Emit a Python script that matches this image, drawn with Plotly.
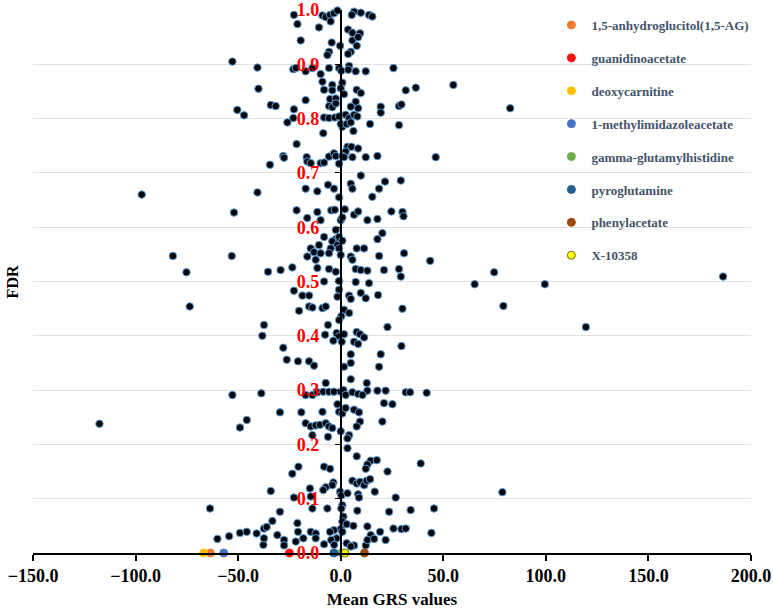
import plotly.graph_objects as go

# ---- background metabolites: Mean GRS value (x) and FDR (y) ----
grs_x = [
    -22.8, -8.9, -7.3, -5.2, -3.3, -1.6, 2.4, 4.9, 6.5, 5.4, 9.8, 13.8, 15.4,
    -4.9, -21.1, -10.6, 3.6, 5.7, 9.4, -19.5, -4.4, 5.7, 8.5, -0.3, 7.8, 4.9, -5.7, -6.5, 3.6,
    -23.1, -21.9, -17.1, -13.8, -9.8, -5.7, -0.8, 0.3, 4.1, 3.7, 7.3, 12.2, 25.7,
    -8.9, -8.1, -4.1, 0.8, 0.0, -4.1, 1.6, 7.8, 9.8, 31.7, -34.1, -31.7, -17.1, -5.2, -2.4, 7.3,
    -22.8, -5.7, -4.1, -2.4, 4.9, 8.5, 19.5, 19.5, 28.4, 29.6,
    -26.0, -23.1, -8.1, -5.7, -2.9, -0.8, 2.4, 4.1, 6.5, 8.1, 0.8, 0.0, 2.9, 4.9, 14.3, 28.4,
    -8.5, 6.2, -21.5, 3.3, 5.2, 8.5, 2.4, -28.0, -27.6, -16.6, -16.3, -14.6, -9.8, -8.1, -5.7,
    -3.3, -2.4, 0.8, 1.6, 5.7, 12.2, 17.9, -0.8, 9.8, 29.3, 21.6,
    -17.1, -11.4, -6.2, -3.3, 4.9, 5.7, 18.7, 15.4, -0.8,
    -21.5, -11.4, -4.6, -2.9, 2.0, 6.5, 8.5, 13.0, 17.9, 24.7, 30.1, 30.6, -9.8, 0.0, 0.8, -16.3,
    -2.4, -8.1, -2.4, -0.8, 0.8, -4.1, -1.6, -0.8, -4.9, -10.6, -14.6, -13.0, -16.3, -9.8, -5.7,
    0.0, 4.9, 7.8, 11.4, 5.7, 17.9, 20.3, 18.7, 30.9,
    -29.3, -23.6, -12.2, -11.4, -5.7, -2.4, 7.3, 9.8, 13.0, 21.1, 28.4,
    -8.1, -0.8, 7.3, 13.8, 29.3, -22.8, -18.7, -15.4, -0.8, -1.6, 4.1, 4.9, 9.8, 12.2, 18.2,
    -20.3, -15.4, -13.8, -8.9, -7.3, 1.6, 4.1, 30.1, 0.3, -0.8, -6.2, 22.8,
    -7.6, -2.0, -0.8, 1.6, -3.6, 0.5, 7.8, 9.4, 11.4, 6.5, 8.5, 29.6,
    -28.0, -26.3, -20.8, -15.4, -13.0, 4.9, 4.9, 1.6, 19.5, 18.7,
    4.9, -7.3, 12.7, 13.0, 17.9, 21.9, 31.7, 33.8, -17.1, -13.8, -11.4, -8.5, -5.7, -3.3, 0.0,
    1.3, 2.4, 5.7, 8.5, 10.6,
    -29.6, -19.2, -8.9, -1.6, -0.8, 0.8, 2.4, 6.5, 8.9, 21.1, 25.2, 9.4,
    -17.1, -14.6, -12.2, -10.1, -7.3, -5.7, -4.1, 0.0, 4.1, 3.3, -13.8, -6.2, 7.8, 20.3,
    3.3, 7.8, 14.6, 17.6, 13.0, 12.2, 22.8, -20.6, -23.6, -8.1, -5.2,
    5.7, 7.8, 9.4, 11.4, 12.7, 14.3, -3.6, -4.1, -7.3, -8.5, -15.0, -14.6, -22.8, -34.1,
    -0.3, 0.3, 3.3, 8.5, 8.9, 16.6, 26.8, 0.8, 0.3, -6.5, -13.8, -29.6, 8.1, 23.6, 34.1,
    -33.3, -21.1, 1.3, 0.8, 2.9, 0.0, 6.2, -3.3, -5.2, -14.6, -20.8, -12.2, -12.2, -2.0, 0.8,
    14.6, 13.0, 19.2, 21.9, 25.7, 29.6, 31.7, -30.9, -27.6, -21.9, -27.6, -18.2, -8.1, -4.6,
    6.5, 2.9, 4.9, 12.2, 13.0, 16.3, -3.2,
    -52.8, -40.6, -40.1, -50.4, -47.1, -34.5, 36.6, 54.9, 46.3, -40.6,
    -52.0, -53.1, -35.4, -37.4, -38.2, -52.8, -38.7, 43.6, 41.9,
    -45.8, -49.1, -63.7, -60.1, -54.4, -49.1, -45.8, -41.0, -37.4, -36.1, -37.7, -37.4,
    39.0, 45.5, 44.2,
    -97.0, -81.8, -75.2, -73.6, -117.6, 82.6, 74.8, 65.3, 99.5, 79.3, 119.5, 186.4, 78.8,
]
fdr_y = [
    0.991, 0.990, 0.987, 0.991, 0.994, 0.999, 1.003, 1.001, 0.997, 0.991, 0.995, 0.991, 0.988,
    0.979, 0.974, 0.968, 0.964, 0.958, 0.957, 0.944, 0.940, 0.944, 0.950, 0.934, 0.934, 0.923, 0.923, 0.917, 0.919,
    0.891, 0.893, 0.887, 0.893, 0.882, 0.893, 0.893, 0.888, 0.897, 0.890, 0.887, 0.887, 0.893,
    0.868, 0.853, 0.862, 0.866, 0.856, 0.852, 0.845, 0.853, 0.847, 0.852, 0.825, 0.823, 0.834, 0.836, 0.837, 0.831,
    0.817, 0.823, 0.821, 0.828, 0.822, 0.819, 0.822, 0.811, 0.823, 0.826,
    0.793, 0.801, 0.802, 0.801, 0.802, 0.804, 0.807, 0.801, 0.807, 0.804, 0.785, 0.790, 0.790, 0.793, 0.790, 0.788,
    0.773, 0.777, 0.753, 0.748, 0.748, 0.745, 0.739, 0.731, 0.728, 0.729, 0.721, 0.718, 0.718, 0.719, 0.730,
    0.736, 0.731, 0.731, 0.729, 0.729, 0.729, 0.731, 0.717, 0.695, 0.686, 0.684,
    0.671, 0.666, 0.678, 0.671, 0.680, 0.671, 0.671, 0.656, 0.655,
    0.631, 0.628, 0.631, 0.632, 0.633, 0.623, 0.629, 0.613, 0.615, 0.629, 0.628, 0.620, 0.613, 0.613, 0.618, 0.617,
    0.595, 0.582, 0.578, 0.582, 0.575, 0.574, 0.567, 0.561, 0.561, 0.567, 0.561, 0.554, 0.546, 0.552, 0.552,
    0.549, 0.546, 0.561, 0.561, 0.540, 0.578, 0.589, 0.547, 0.552,
    0.521, 0.526, 0.540, 0.525, 0.523, 0.518, 0.523, 0.521, 0.520, 0.521, 0.523,
    0.500, 0.501, 0.499, 0.497, 0.509, 0.483, 0.474, 0.474, 0.485, 0.472, 0.474, 0.468, 0.479, 0.469, 0.475,
    0.446, 0.454, 0.452, 0.451, 0.454, 0.448, 0.442, 0.450, 0.436, 0.429, 0.420, 0.416,
    0.402, 0.405, 0.399, 0.403, 0.391, 0.389, 0.407, 0.403, 0.397, 0.389, 0.385, 0.381,
    0.378, 0.356, 0.353, 0.353, 0.345, 0.366, 0.350, 0.343, 0.366, 0.343,
    0.320, 0.313, 0.313, 0.299, 0.299, 0.299, 0.296, 0.296, 0.291, 0.291, 0.296, 0.297, 0.297, 0.297, 0.297,
    0.300, 0.291, 0.296, 0.293, 0.291,
    0.259, 0.259, 0.260, 0.274, 0.260, 0.257, 0.267, 0.264, 0.259, 0.276, 0.274, 0.242,
    0.239, 0.233, 0.235, 0.236, 0.239, 0.233, 0.230, 0.224, 0.217, 0.211, 0.217, 0.214, 0.233, 0.242,
    0.193, 0.178, 0.170, 0.171, 0.163, 0.155, 0.150, 0.159, 0.146, 0.159, 0.155,
    0.133, 0.128, 0.131, 0.125, 0.133, 0.136, 0.130, 0.125, 0.121, 0.116, 0.119, 0.104, 0.102, 0.114,
    0.113, 0.106, 0.110, 0.108, 0.102, 0.113, 0.102, 0.088, 0.082, 0.082, 0.082, 0.076, 0.078, 0.076, 0.079,
    0.059, 0.055, 0.067, 0.058, 0.053, 0.044, 0.050, 0.042, 0.039, 0.039, 0.039, 0.036, 0.027, 0.027, 0.039,
    0.033, 0.049, 0.039, 0.024, 0.045, 0.044, 0.045, 0.033, 0.024, 0.021, 0.014, 0.027, 0.016, 0.024,
    0.014, 0.018, 0.012, 0.014, 0.024, 0.026, 0.015,
    0.905, 0.894, 0.855, 0.816, 0.806, 0.715, 0.857, 0.862, 0.729, 0.664,
    0.627, 0.547, 0.518, 0.420, 0.400, 0.291, 0.294, 0.538, 0.295,
    0.245, 0.231, 0.082, 0.026, 0.031, 0.037, 0.039, 0.036, 0.045, 0.048, 0.015, 0.027,
    0.165, 0.082, 0.037,
    0.660, 0.547, 0.517, 0.454, 0.238, 0.819, 0.517, 0.495, 0.495, 0.455, 0.416, 0.509, 0.112,
]

# ---- highlighted metabolites ----
hl_names = ["1,5-anhydroglucitol(1,5-AG)", "guanidinoacetate", "deoxycarnitine",
            "1-methylimidazoleacetate", "gamma-glutamylhistidine", "pyroglutamine",
            "phenylacetate", "X-10358"]
hl_x = [-63.5, -25.0, -66.8, -57.0, 0.5, -3.3, 11.6, 2.0]
hl_y = [0.0, 0.0, 0.0, 0.0, 0.0, 0.0, 0.0, 0.0]
hl_colors = ["#ED7D31", "#FF1010", "#FFC000", "#4472C4", "#70AD47", "#255E91", "#9E480E", "#FFFF00"]
hl_lines = ["#ED7D31", "#FF1010", "#FFC000", "#4472C4", "#70AD47", "#255E91", "#9E480E", "#6B6B00"]

x_ticks = [-150, -100, -50, 0, 50, 100, 150, 200]
y_ticks = [0.0, 0.1, 0.2, 0.3, 0.4, 0.5, 0.6, 0.7, 0.8, 0.9, 1.0]

SERIF = "Liberation Serif, Times New Roman, serif"

fig = go.Figure()
fig.add_trace(go.Scatter(
    x=grs_x, y=fdr_y, mode="markers", showlegend=False, cliponaxis=False,
    marker=dict(size=7.5, color="#05070d", line=dict(color="#5B9BD5", width=1)),
))
for n, xv, yv, c, lc in zip(hl_names, hl_x, hl_y, hl_colors, hl_lines):
    fig.add_trace(go.Scatter(
        x=[xv], y=[yv], mode="markers", name=n, legendgroup=n, cliponaxis=False,
        marker=dict(size=8, color=c, line=dict(color=lc, width=1)),
    ))

fig.update_layout(
    width=773, height=609, autosize=False,
    margin=dict(l=33, r=22, t=10, b=56),
    paper_bgcolor="white", plot_bgcolor="white",
    font=dict(family=SERIF),
    legend=dict(
        x=0.722, y=1.0, xanchor="left", yanchor="top",
        bgcolor="rgba(0,0,0,0)", tracegroupgap=13,
        font=dict(family=SERIF, size=13, color="#44546A", weight="bold"),
    ),
    xaxis=dict(
        range=[-150, 200], tickvals=x_ticks, tickformat=".1f",
        automargin=False,
        showline=True, linecolor="black", linewidth=1.5,
        ticks="outside", ticklen=6, tickcolor="black", tickwidth=1.5,
        showgrid=False, zeroline=False,
        tickfont=dict(family=SERIF, size=18, color="black", weight="bold"),
        title=dict(text="Mean GRS values", standoff=8,
                   font=dict(family=SERIF, size=17, color="black", weight="bold")),
    ),
    yaxis=dict(
        range=[0, 1.0], tickvals=y_ticks, tickformat=".1f",
        automargin=False,
        anchor="free", position=150 / 350, side="left",
        showline=True, linecolor="black", linewidth=1.5,
        ticks="outside", ticklen=5, tickcolor="black",
        ticklabelstandoff=12,
        showgrid=True, gridcolor="#E2E2E2", gridwidth=1, zeroline=False,
        tickfont=dict(family=SERIF, size=18, color="#FF0000", weight="bold"),
    ),
    annotations=[dict(
        text="FDR", xref="paper", yref="paper", x=-0.028, y=0.5,
        xanchor="center", yanchor="middle", textangle=-90, showarrow=False,
        font=dict(family=SERIF, size=16, color="black", weight="bold"),
    )],
)

fig.write_html(
    "out.html",
    config={"displayModeBar": False},
    post_script="document.body.style.margin='0';document.body.style.overflow='hidden';",
)
